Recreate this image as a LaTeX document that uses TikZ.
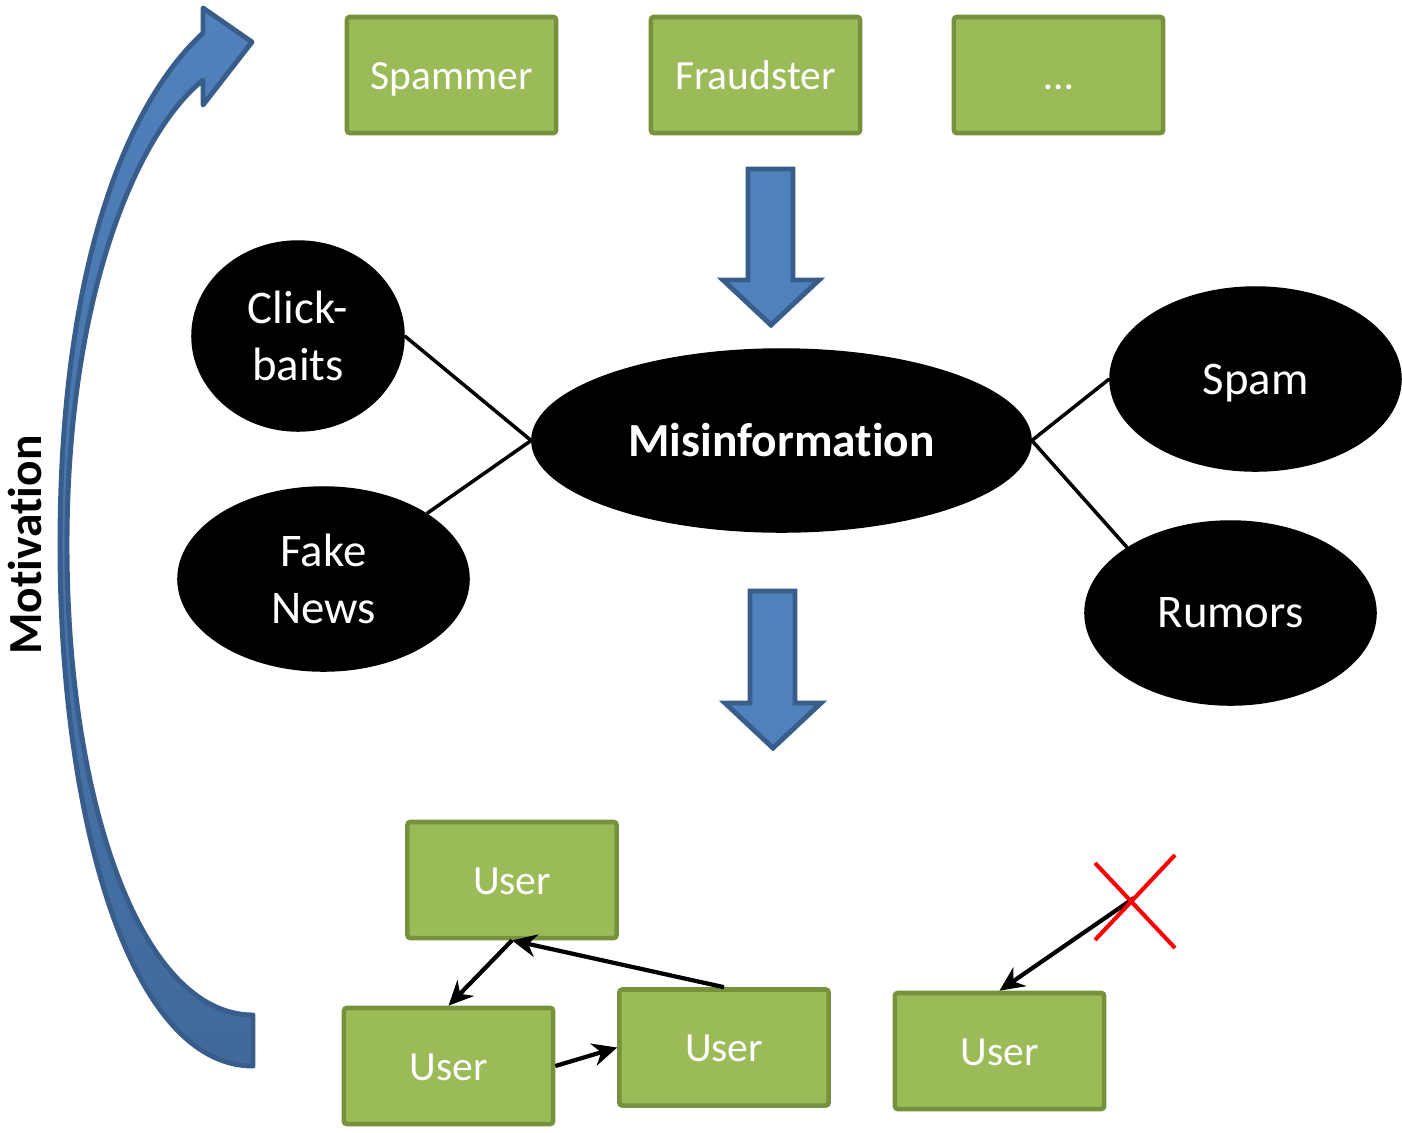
\documentclass[tikz,border=0pt]{standalone}
\usepackage{fontspec}
\setmainfont{Carlito}[RawFeature={-liga,-clig,-calt}]
\usetikzlibrary{shapes.geometric}
\usetikzlibrary{arrows.meta}
\usetikzlibrary{positioning}
\definecolor{boxgreen}{HTML}{9BBB59}
\definecolor{boxedge}{HTML}{76923C}
\definecolor{arrowblue}{HTML}{4F81BD}
\definecolor{arrowedge}{HTML}{385D8A}
\tikzset{actor/.style={rectangle, draw=boxedge, fill=boxgreen, line width=1.3pt, rounded corners=0.8pt, minimum width=2.09cm, minimum height=1.16cm, text height=8.2pt, text depth=0pt, text=white, font=\fontsize{11.8}{14}\selectfont}}
\tikzset{topic/.style={ellipse, fill=black, draw=black, text=white, inner sep=0pt, align=center, font=\fontsize{13.3}{16.2}\selectfont}}
\tikzset{link/.style={line width=1pt}}
\tikzset{spread/.style={-{Stealth[length=7pt,width=6.5pt]}, line width=1.2pt}}
\tikzset{block arrow/.style={fill=arrowblue, draw=arrowedge, line width=1.4pt, line join=miter}}
\tikzstyle{cross} = [red, line width=1.15pt]

\begin{document}
\begin{tikzpicture}[x=0.01cm, y=-0.01cm]
  \useasboundingbox (0,0) rectangle (1402,1132);

  % attackers
  \node [actor] (spammer)   at (451.5,75) {Spammer};
  \node [actor] (fraudster) at (755.5,75) {Fraudster};
  \node [actor] (others)    at (1058.5,75) {\dots};

  \draw [block arrow] (748,169) -- (793,169) -- (793,280) -- (819,280) -- (771,325) -- (723,280) -- (748,280) -- cycle;

  % kinds of misinformation
  \node [topic, minimum width=4.99cm, minimum height=1.83cm, font=\bfseries\fontsize{13.5}{16}\selectfont] (misinfo) at (781.5,440.5) {Misinformation};
  \node [topic, minimum width=2.12cm, minimum height=1.90cm] (click)  at (298,336)    {Click-\\baits};
  \node [topic, minimum width=2.91cm, minimum height=1.84cm] (fake)   at (323.5,579)  {Fake\\News};
  \node [topic, minimum width=2.91cm, minimum height=1.84cm, text depth=0pt] (spam) at (1255.5,379) {Spam};
  \node [topic, minimum width=2.91cm, minimum height=1.84cm] (rumors) at (1230.5,613) {Rumors};

  \draw [link] (misinfo.west) -- (click.east);
  \draw [link] (misinfo.west) -- (fake.north east);
  \draw [link] (misinfo.east) -- (spam.west);
  \draw [link] (misinfo.east) -- (rumors.north west);

  \draw [block arrow] (750,591) -- (795,591) -- (795,703) -- (821,703) -- (773,748) -- (725,703) -- (750,703) -- cycle;

  % users
  \node [actor] (user1) at (512,880)    {User};
  \node [actor] (user2) at (448.5,1066) {User};
  \node [actor] (user3) at (724,1047.5) {User};
  \node [actor] (user4) at (999.5,1051) {User};
  \coordinate (blocked) at (1134,898);

  \draw [spread] (user1.south) -- (user2.north);
  \draw [spread] (user3.north) -- (user1.south);
  \draw [spread] (user2.east)  -- (user3.west);
  \draw [spread] (blocked)     -- (user4.north);
  \draw [cross] (blocked) ++(-39,-35) -- ++(80,85);
  \draw [cross] (blocked) ++(41,-43) -- ++(-80,85);

  % motivation
  \draw [block arrow, line join=round, top color=arrowblue, bottom color=arrowblue!82!black]
    (253,1066) .. controls (130,1066) and (60,820) .. (60,545)
    .. controls (60,270) and (125,105) .. (203,33) -- (203,8) -- (252,42) -- (203,105) -- (203,80)
    .. controls (135,135) and (67,300) .. (67,545)
    .. controls (67,800) and (140,1015) .. (253,1015) -- cycle;
  \node [rotate=90, font=\bfseries\fontsize{13.5}{16}\selectfont] (motive) at (25,545) {Motivation};
\end{tikzpicture}
\end{document}
